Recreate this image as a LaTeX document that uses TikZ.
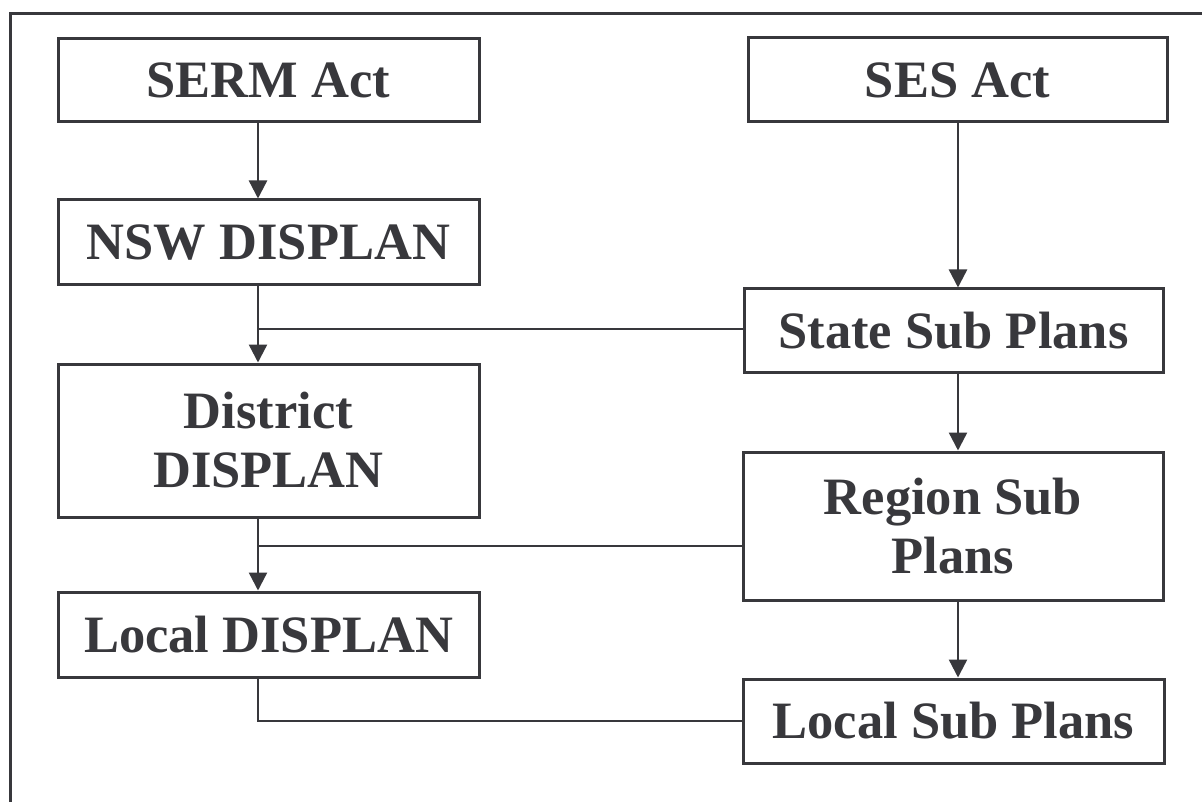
\documentclass[tikz,border=0pt]{standalone}
\usepackage{fontspec}
\setmainfont{Liberation Serif}
\usetikzlibrary{arrows.meta}
\definecolor{ink}{HTML}{38383C}
\begin{document}
\begin{tikzpicture}[x=1pt,y=-1pt,
  box/.style={draw=ink,line width=3pt,rectangle,inner sep=0pt,
    text=ink,font=\fontsize{52.5}{59}\selectfont\bfseries,align=center},
  conn/.style={draw=ink,line width=2.4pt},
  arr/.style={conn,-{Triangle[length=18pt,width=18pt]}}]
\useasboundingbox[fill=white] (0,0) rectangle (1202,802);
\draw[ink,line width=3pt] (10,802) -- (10,14) -- (1202,14);
\node[box,minimum width=421pt,minimum height=83pt] (serm) at (268.5,80.5) {SERM Act};
\node[box,minimum width=419pt,minimum height=84pt] (ses) at (957.5,80) {SES Act};
\node[box,minimum width=421pt,minimum height=85pt] (nsw) at (268.5,242.5) {NSW DISPLAN};
\node[box,minimum width=419pt,minimum height=83pt] (state) at (953.5,330.5) {State Sub Plans};
\node[box,minimum width=421pt,minimum height=153pt] (dist) at (268.5,440.5) {District\\DISPLAN};
\node[box,minimum width=420pt,minimum height=148pt] (region) at (953,526) {Region Sub\\Plans};
\node[box,minimum width=421pt,minimum height=85pt] (ldis) at (268.5,634.5) {Local DISPLAN};
\node[box,minimum width=421pt,minimum height=84pt] (lsub) at (953.5,721) {Local Sub Plans};
\coordinate (lx) at (258,0);
\coordinate (rx) at (958,0);
\coordinate (ry) at (0,546);
\coordinate (sy) at (0,329);
\draw[arr] (serm.south -| lx) -- (nsw.north -| lx);
\draw[arr] (nsw.south -| lx) -- (dist.north -| lx);
\draw[conn] (state.west |- sy) -- (lx |- sy);
\draw[arr] (dist.south -| lx) -- (ldis.north -| lx);
\draw[conn] (region.west |- ry) -- (lx |- ry);
\draw[conn] (ldis.south -| lx) |- (lsub.west);
\draw[arr] (ses.south -| rx) -- (state.north -| rx);
\draw[arr] (state.south -| rx) -- (region.north -| rx);
\draw[arr] (region.south -| rx) -- (lsub.north -| rx);
\end{tikzpicture}
\end{document}
